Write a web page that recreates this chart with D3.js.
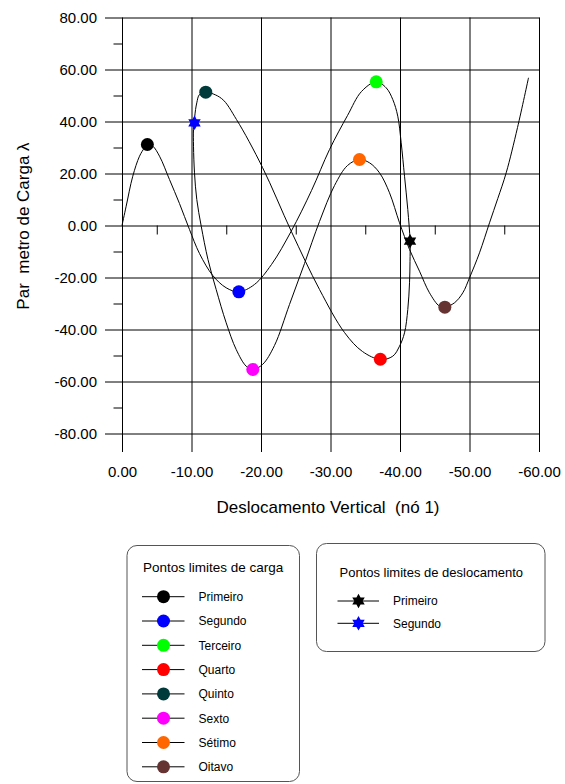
<!DOCTYPE html>
<html>
<head>
<meta charset="utf-8">
<script src="https://cdn.jsdelivr.net/npm/d3@7"></script>
<style>
  body { margin: 0; background: #fff; }
  text { font-family: Arial, "Liberation Sans", sans-serif; fill: #000; }
</style>
</head>
<body>
<svg width="565" height="784"></svg>
<script>
// caminho de equilibrio (deslocamento, lambda)
var deslocamento = [0, -0.60, -1.55, -2.52, -3.24, -3.67,
  -4.43, -5.40, -6.83, -8.27, -9.71, -11.15, -13.06, -14.99, -16.81,
  -19.06, -21.51, -24.35, -27.27, -29.86, -32.45, -34.46, -36.58,
  -38.01, -38.96, -39.68, -40.17, -40.65, -41.12, -41.45, -41.44, -41.37, -41.12, -40.65, -39.93, -38.96, -37.19,
  -34.60, -32.01, -28.42, -24.35, -20.22, -16.47, -14.32, -12.01,
  -11.15, -10.76, -10.47, -10.43, -10.29, -10.29, -10.43, -10.76, -11.40, -12.37, -13.55, -14.99, -16.43, -17.87, -18.82,
  -20.22, -21.94, -24.10, -26.26, -28.42, -30.58, -32.45, -34.17,
  -35.61, -37.05, -38.49, -39.93, -41.37, -42.81, -44.24, -45.68, -46.45,
  -47.84, -49.04, -50.00, -51.44, -52.88, -54.07, -55.28, -56.91, -58.49];
var lambda = [0, 7.42, 18.96, 26.65, 29.88, 31.15,
  30.50, 26.65, 17.69, 8.46, -1.54, -10.77, -19.23, -23.96, -25.50,
  -22.69, -15.00, -2.19, 13.46, 29.23, 42.31, 51.54, 55.27,
  52.96, 48.46, 42.04, 31.81, 18.96, 6.15, -6.04, -13.85, -22.04, -32.31, -41.27, -46.42, -50.27, -51.54,
  -48.46, -41.15, -24.62, -2.19, 22.31, 40.77, 48.85, 51.27,
  50.38, 47.19, 42.04, 39.50, 36.92, 30.50, 20.27, 10.00, -0.27, -13.08, -24.62, -37.42, -47.69, -54.12, -55.38,
  -53.46, -46.15, -30.38, -14.62, 1.54, 15.38, 23.08, 25.38,
  24.12, 20.27, 12.58, 1.04, -9.23, -17.58, -25.88, -31.04, -31.42,
  -29.73, -25.88, -20.12, -10.50, 1.04, 10.38, 20.27, 37.69, 56.81];

// pontos limites de carga
var cargaNomes = ["Primeiro", "Segundo", "Terceiro", "Quarto", "Quinto", "Sexto", "Sétimo", "Oitavo"];
var cargaX = [-3.65, -16.81, -36.58, -37.17, -12.05, -18.82, -34.17, -46.45];
var cargaY = [31.15, -25.50, 55.27, -51.45, 51.27, -55.38, 25.38, -31.42];
var cargaCores = ["#000000", "#0000ff", "#00ff00", "#ff0000", "#003a3a", "#ff00ff", "#ff6600", "#663333"];

// pontos limites de deslocamento
var deslNomes = ["Primeiro", "Segundo"];
var deslX = [-41.44, -10.43];
var deslY = [-6.04, 39.50];
var deslCores = ["#000000", "#0000ff"];

var xTicks = [0, -10, -20, -30, -40, -50, -60];
var xMinor = [-5, -15, -25, -35, -45, -55];
var yTicks = [80, 60, 40, 20, 0, -20, -40, -60, -80];
var yMinor = [70, 50, 30, 10, -10, -30, -50, -70];

var svg = d3.select("svg");

var x = d3.scaleLinear().domain([0, -60]).range([122, 539]);
var y = d3.scaleLinear().domain([80, -80]).range([17.5, 433.5]);

// grade horizontal + rotulos do eixo y
svg.append("g")
    .attr("transform", "translate(105,0)")
    .call(d3.axisLeft(y).tickValues(yTicks).tickSizeInner(-(539.5 - 105)).tickSizeOuter(0)
      .tickPadding(8).tickFormat(function(d) { return d.toFixed(2); }))
    .call(function(g) { g.select(".domain").remove(); })
    .call(function(g) {
      g.selectAll("line").attr("stroke", "#000");
      g.selectAll("text").attr("font-size", 15).attr("font-family", "Arial, 'Liberation Sans', sans-serif");
    });

// grade vertical + rotulos do eixo x
svg.append("g")
    .attr("transform", "translate(0,452)")
    .call(d3.axisBottom(x).tickValues(xTicks).tickSizeInner(-(452 - 17.5)).tickSizeOuter(0)
      .tickPadding(14).tickFormat(function(d) { return d.toFixed(2); }))
    .call(function(g) { g.select(".domain").remove(); })
    .call(function(g) {
      g.selectAll("line").attr("stroke", "#000");
      g.selectAll("text").attr("font-size", 15).attr("font-family", "Arial, 'Liberation Sans', sans-serif");
    });

// marcas secundarias
svg.append("g")
    .attr("transform", "translate(122,0)")
    .call(d3.axisLeft(y).tickValues(yMinor).tickSize(8.5).tickFormat(""))
    .call(function(g) { g.select(".domain").remove(); g.selectAll("line").attr("stroke", "#000"); });

svg.append("g")
    .attr("transform", "translate(0," + y(0) + ")")
    .call(d3.axisBottom(x).tickValues(xMinor).tickSize(9).tickFormat(""))
    .call(function(g) { g.select(".domain").remove(); g.selectAll("line").attr("stroke", "#000"); });

// curva
var pts = deslocamento.map(function(d, i) { return [d, lambda[i]]; });
var line = d3.line()
    .x(function(d) { return x(d[0]); })
    .y(function(d) { return y(d[1]); })
    .curve(d3.curveCatmullRom.alpha(0.5));

svg.append("path")
    .datum(pts)
    .attr("d", line)
    .attr("fill", "none")
    .attr("stroke", "#000")
    .attr("stroke-width", 1);

// estrela de seis pontas
function hexagram(r) {
  var p = [];
  for (var k = 0; k < 12; k++) {
    var a = -Math.PI / 2 + k * Math.PI / 6;
    var rr = k % 2 ? r / Math.sqrt(3) : r;
    p.push([rr * Math.cos(a), rr * Math.sin(a)]);
  }
  return d3.line()(p) + "Z";
}

svg.append("g").selectAll("circle")
    .data(cargaX)
    .enter().append("circle")
    .attr("cx", function(d) { return x(d); })
    .attr("cy", function(d, i) { return y(cargaY[i]); })
    .attr("r", 6.5)
    .attr("fill", function(d, i) { return cargaCores[i]; });

svg.append("g").selectAll("path")
    .data(deslX)
    .enter().append("path")
    .attr("transform", function(d, i) { return "translate(" + x(d) + "," + y(deslY[i]) + ")"; })
    .attr("d", hexagram(7.2))
    .attr("fill", function(d, i) { return deslCores[i]; });

// titulos dos eixos
svg.append("text")
    .attr("x", 328).attr("y", 513)
    .attr("text-anchor", "middle")
    .attr("font-size", 17)
    .style("white-space", "pre")
    .text("Deslocamento Vertical  (nó 1)");

svg.append("text")
    .attr("transform", "translate(29,226) rotate(-90)")
    .attr("text-anchor", "middle")
    .attr("font-size", 17)
    .style("white-space", "pre")
    .text("Par  metro de Carga λ");

// legenda 1
var leg1 = svg.append("g");
leg1.append("rect")
    .attr("x", 127).attr("y", 545.5).attr("width", 172.5).attr("height", 236)
    .attr("rx", 10).attr("fill", "none").attr("stroke", "#555");
leg1.append("text").attr("x", 143).attr("y", 572).attr("font-size", 13.5).text("Pontos limites de carga");
var row1 = leg1.selectAll(".item").data(cargaNomes).enter().append("g")
    .attr("transform", function(d, i) { return "translate(0," + (596.7 + i * 24.3) + ")"; });
row1.append("line").attr("x1", 142).attr("x2", 184.5).attr("stroke", "#000");
row1.append("circle").attr("cx", 163.5).attr("r", 6.5).attr("fill", function(d, i) { return cargaCores[i]; });
row1.append("text").attr("x", 198.5).attr("y", 4.3).attr("font-size", 12).text(function(d) { return d; });

// legenda 2
var leg2 = svg.append("g");
leg2.append("rect")
    .attr("x", 316.5).attr("y", 543.5).attr("width", 228.5).attr("height", 108)
    .attr("rx", 10).attr("fill", "none").attr("stroke", "#555");
leg2.append("text").attr("x", 339.5).attr("y", 577).attr("font-size", 13).text("Pontos limites de deslocamento");
var row2 = leg2.selectAll(".item").data(deslNomes).enter().append("g")
    .attr("transform", function(d, i) { return "translate(0," + (601 + i * 22.3) + ")"; });
row2.append("line").attr("x1", 337.5).attr("x2", 379).attr("stroke", "#000");
row2.append("path").attr("transform", "translate(358.5,0)").attr("d", hexagram(7.2))
    .attr("fill", function(d, i) { return deslCores[i]; });
row2.append("text").attr("x", 393).attr("y", 4.3).attr("font-size", 12).text(function(d) { return d; });
</script>
</body>
</html>
